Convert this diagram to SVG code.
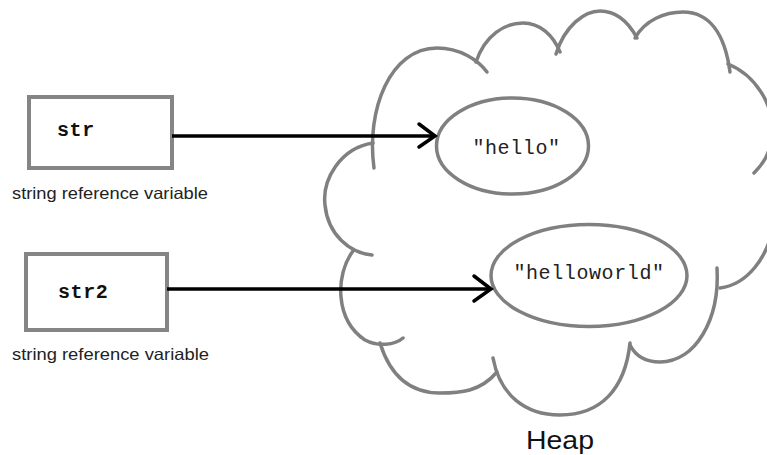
<svg xmlns="http://www.w3.org/2000/svg" width="767" height="455" viewBox="0 0 767 455">
<defs>
<style>
.box{fill:#fff;stroke:#858585;stroke-width:4}
.var{font-family:"Liberation Mono",monospace;font-weight:bold;font-size:20px;letter-spacing:0.6px;fill:#111}
.lbl{font-family:"Liberation Sans",Arial,sans-serif;font-size:16.5px;fill:#222}
.obj{fill:#fff;stroke:#808080;stroke-width:3.5}
.val{font-family:"Liberation Mono",monospace;font-size:20px;letter-spacing:0.6px;fill:#222}
.cloud{fill:none;stroke:#808080;stroke-width:3.5;stroke-linecap:round}
.conn{stroke:#000;stroke-width:3.5;fill:none}
.head{stroke:#000;stroke-width:3.5;fill:none;stroke-linecap:round;stroke-linejoin:miter}
</style>
</defs>
<rect width="767" height="455" fill="#fff"/>
<g id="heap">
<path class="cloud" d="M374,168 C366,110 390,48 437,48 C460,48 478,60 487,72"/>
<path class="cloud" d="M476,62 C485,35 505,23 523,23 C540,23 553,35 560,52"/>
<path class="cloud" d="M556,54 C565,25 585,11 600,11 C618,11 630,25 637,38"/>
<path class="cloud" d="M635,38 C645,20 665,12 683,12 C710,12 725,35 730,72"/>
<path class="cloud" d="M728,64 C755,75 775,105 772,135 C770,155 762,165 754,173"/>
<path class="cloud" d="M775,215 C770,260 745,285 720,288"/>
<path class="cloud" d="M717,268 C720,320 695,362 660,362 C645,362 635,355 630,345"/>
<path class="cloud" d="M630,343 C625,390 600,415 560,415 C525,415 500,395 493,358"/>
<path class="cloud" d="M497,372 C480,392 460,393 440,393 C410,393 390,375 380,343"/>
<path class="cloud" d="M353,251 C335,275 335,320 365,340 C378,347 395,345 403,338"/>
<path class="cloud" d="M373,143 C340,148 322,180 325,205 C328,235 350,253 372,255"/>
<text x="560" y="449" text-anchor="middle" font-family="Liberation Sans, Arial, sans-serif" font-size="25" fill="#111" textLength="68" lengthAdjust="spacingAndGlyphs">Heap</text>
</g>
<g id="str">
<rect class="box" x="29" y="97" width="143" height="71"/>
<text class="var" x="57" y="136">str</text>
<text class="lbl" x="12" y="199" textLength="196" lengthAdjust="spacingAndGlyphs">string reference variable</text>
</g>
<g id="str2">
<rect class="box" x="26" y="254" width="141" height="76"/>
<text class="var" x="58" y="298">str2</text>
<text class="lbl" x="12" y="360" textLength="197" lengthAdjust="spacingAndGlyphs">string reference variable</text>
</g>
<g id="hello">
<ellipse class="obj" cx="512.5" cy="146" rx="76" ry="48"/>
<text class="val" x="516.5" y="154" text-anchor="middle">"hello"</text>
</g>
<g id="helloworld">
<ellipse class="obj" cx="589" cy="275.5" rx="98" ry="51"/>
<text class="val" x="589" y="279" text-anchor="middle">"helloworld"</text>
</g>
<g id="connectors">
<line class="conn" x1="172" y1="136" x2="435" y2="136"/>
<polyline class="head" points="419,124 435,136 419,147"/>
<line class="conn" x1="167" y1="289" x2="491" y2="289"/>
<polyline class="head" points="474,276 491,289 474,301"/>
</g>
</svg>
